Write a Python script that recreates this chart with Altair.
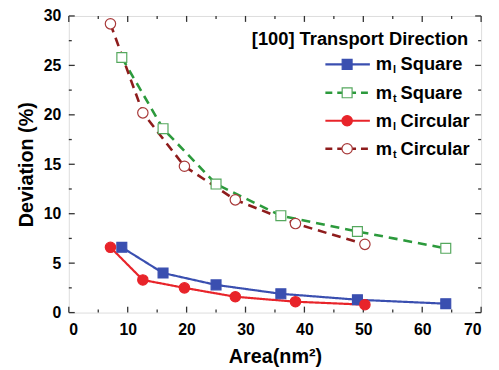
import altair as alt
import pandas as pd

# ---- data ----
series_names = ["ml Square", "mt Square", "ml Circular", "mt Circular"]
sq_area = [9, 16, 25, 36, 49, 64]
circ_area = [7.07, 12.57, 19.63, 28.27, 38.48, 50.27]
ml_square = [6.6, 4.0, 2.8, 1.9, 1.3, 0.9]
mt_square = [25.8, 18.6, 13.0, 9.8, 8.2, 6.5]
ml_circular = [6.6, 3.3, 2.5, 1.6, 1.1, 0.8]
mt_circular = [29.2, 20.2, 14.8, 11.4, 9.0, 6.9]

x_ticks_major = [0, 10, 20, 30, 40, 50, 60, 70]
x_ticks_minor = [5, 15, 25, 35, 45, 55, 65]
y_ticks_major = [0, 5, 10, 15, 20, 25, 30]
y_ticks_minor = [2.5, 7.5, 12.5, 17.5, 22.5, 27.5]

legend_title = "[100] Transport Direction"
legend_sub = ["l", "t", "l", "t"]
legend_rest = ["Square", "Square", "Circular", "Circular"]

# ---- styles ----
colors = ["#3a4fb0", "#2c9a3c", "#e8242a", "#8e1c1c"]
point_stroke = ["#3a4fb0", "#55a85e", "#e8242a", "#a83a3a"]
point_fill = ["#3a4fb0", "white", "#e8242a", "white"]
shapes = ["square", "square", "circle", "circle"]
dashes = [[1, 0], [9, 6], [1, 0], [9, 6]]
widths = [2.2, 2.6, 2.2, 2.6]
FONT = "Liberation Sans"

W, H = 417, 300

xs = [sq_area, sq_area, circ_area, circ_area]
ys = [ml_square, mt_square, ml_circular, mt_circular]

xscale = alt.Scale(domain=[0, 70], nice=False, zero=False)
yscale = alt.Scale(domain=[0, 30], nice=False, zero=False)

axis_x = alt.Axis(values=x_ticks_major, ticks=False, domain=False, grid=False,
                  labelFont=FONT, labelFontSize=16, labelFontWeight="bold", labelColor="black",
                  labelPadding=9, title="Area(nm²)", titleFont=FONT, titleFontSize=20,
                  titleFontWeight="bold", titleColor="black", titlePadding=9)
axis_y = alt.Axis(values=y_ticks_major, ticks=False, domain=False, grid=False,
                  labelFont=FONT, labelFontSize=16, labelFontWeight="bold", labelColor="black",
                  labelPadding=8, title="Deviation (%)", titleFont=FONT, titleFontSize=20,
                  titleFontWeight="bold", titleColor="black", titlePadding=7)

layers = []

# tick marks (inward on all four sides)
def xticks(vals, length):
    df = pd.DataFrame({"v": vals})
    base = alt.Chart(df).mark_rule(color="#333", strokeWidth=1.3)
    bot = base.encode(x=alt.X("v:Q", scale=xscale, axis=axis_x), y=alt.value(H), y2=alt.value(H - length))
    top = base.encode(x=alt.X("v:Q", scale=xscale, axis=axis_x), y=alt.value(0), y2=alt.value(length))
    return [bot, top]

def yticks(vals, length):
    df = pd.DataFrame({"v": vals})
    base = alt.Chart(df).mark_rule(color="#333", strokeWidth=1.3)
    left = base.encode(y=alt.Y("v:Q", scale=yscale, axis=axis_y), x=alt.value(0), x2=alt.value(length))
    right = base.encode(y=alt.Y("v:Q", scale=yscale, axis=axis_y), x=alt.value(W), x2=alt.value(W - length))
    return [left, right]

layers += xticks(x_ticks_major, 6) + xticks(x_ticks_minor, 3)
layers += yticks(y_ticks_major, 6) + yticks(y_ticks_minor, 3)

# data series
for i, name in enumerate(series_names):
    df = pd.DataFrame({"x": xs[i], "y": ys[i]})
    line = alt.Chart(df).mark_line(color=colors[i], strokeWidth=widths[i], strokeDash=dashes[i]).encode(
        x=alt.X("x:Q", scale=xscale, axis=axis_x),
        y=alt.Y("y:Q", scale=yscale, axis=axis_y),
        order="x:Q",
    )
    layers.append(line)
for i, name in enumerate(series_names):
    df = pd.DataFrame({"x": xs[i], "y": ys[i]})
    pts = alt.Chart(df).mark_point(shape=shapes[i], filled=True, fill=point_fill[i],
                                   stroke=point_stroke[i], strokeWidth=1.2,
                                   size=100 if shapes[i] == "square" else 110, opacity=1).encode(
        x=alt.X("x:Q", scale=xscale, axis=axis_x), y=alt.Y("y:Q", scale=yscale, axis=axis_y))
    layers.append(pts)

# legend
dummy = pd.DataFrame({"a": [0]})
layers.append(alt.Chart(dummy).mark_text(text=legend_title, font=FONT, fontSize=18.5, fontWeight="bold",
                                         align="right", baseline="middle", color="black").encode(
    x=alt.value(404), y=alt.value(23)))
rows = [49, 77.7, 106, 134.3]
for i in range(4):
    ry = rows[i]
    layers.append(alt.Chart(dummy).mark_rule(color=colors[i], strokeWidth=widths[i],
                                             strokeDash=[7, 5] if i % 2 else [1, 0]).encode(
        x=alt.value(259.5), x2=alt.value(304.5), y=alt.value(ry)))
    layers.append(alt.Chart(dummy).mark_point(shape=shapes[i], filled=True, fill=point_fill[i],
                                              stroke=point_stroke[i], strokeWidth=1.2,
                                              size=100 if shapes[i] == "square" else 110, opacity=1).encode(
        x=alt.value(281.5), y=alt.value(ry)))
    layers.append(alt.Chart(dummy).mark_text(text="m", font=FONT, fontSize=18.5, fontWeight="bold",
                                             align="left", baseline="middle", color="black").encode(
        x=alt.value(310.5), y=alt.value(ry)))
    layers.append(alt.Chart(dummy).mark_text(text=legend_sub[i], font=FONT, fontSize=11, fontWeight="bold",
                                             align="left", baseline="middle", color="black").encode(
        x=alt.value(328), y=alt.value(ry + 6)))
    layers.append(alt.Chart(dummy).mark_text(text=legend_rest[i], font=FONT, fontSize=18.5, fontWeight="bold",
                                             align="left", baseline="middle", color="black").encode(
        x=alt.value(335.5), y=alt.value(ry)))

chart = alt.layer(*layers).properties(
    width=W, height=H,
    autosize=alt.AutoSizeParams(type="none"),
    padding={"left": 61.5, "top": 6, "right": 10, "bottom": 54},
).configure_view(stroke="#333", strokeWidth=2).configure(background="white")

chart.save("out.html", embed_options={"renderer": "svg", "actions": False})
